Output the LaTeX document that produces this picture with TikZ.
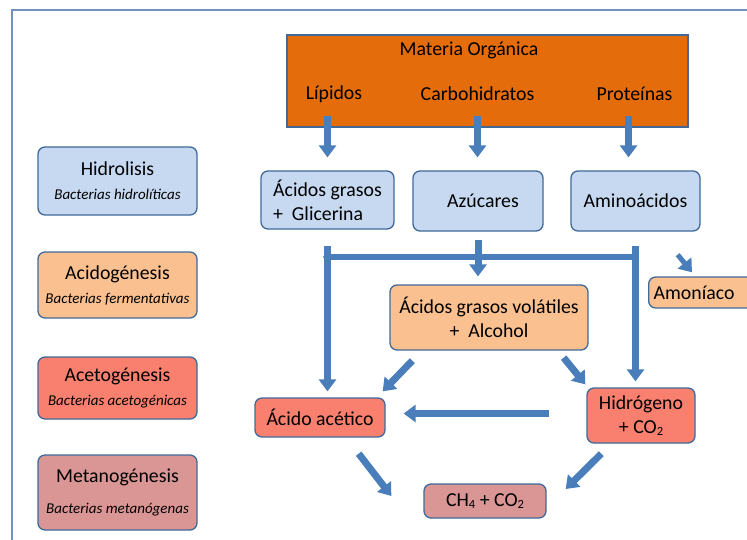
\documentclass[tikz,border=0pt]{standalone}
\usepackage{fontspec}
\setmainfont{Carlito}
\usepackage{xcolor}
\usepackage{tikz}
\usetikzlibrary{arrows.meta,positioning}

\definecolor{lblue}{HTML}{C6D9F1}
\definecolor{lorange}{HTML}{FAC090}
\definecolor{dorange}{HTML}{E46C0A}
\definecolor{lred}{HTML}{F9806F}
\definecolor{lpink}{HTML}{D99694}
\definecolor{edgeblue}{HTML}{41699A}
\definecolor{arrblue}{HTML}{4A7EBB}
\definecolor{framecol}{HTML}{7391BC}

\newcommand{\bigtxt}{\fontsize{19.8}{24}\selectfont}
\newcommand{\smalltxt}{\fontsize{15}{18}\selectfont\itshape}
\newcommand{\lowsub}[1]{\raisebox{-0.25ex}{\fontsize{12.5}{12.5}\selectfont #1}}

\begin{document}
\begin{tikzpicture}[
  x=1pt, y=-1pt,
  box/.style={draw=edgeblue,line width=1.3pt,rounded corners=7pt,align=center,inner sep=0pt,font=\bigtxt},
  txt/.style={inner sep=0pt,font=\bigtxt},
  arr/.style={-{Triangle[length=12pt,width=17pt]},line width=7pt,draw=arrblue},
  bar/.style={{Triangle[length=4pt,width=9pt]}-{Triangle[length=4pt,width=9pt]},line width=6pt,draw=arrblue},
  frame/.style={draw=framecol,line width=1.6pt},
]
\useasboundingbox (0,0) rectangle (747,539);
\draw[frame] (12,560) |- (770,10);

% stages
\node[box,fill=lblue,minimum width=159pt,minimum height=68pt] (hid) at (117.5,181) {Hidrolisis\\{\smalltxt Bacterias hidrolíticas}};
\node[box,fill=lorange,minimum width=159pt,minimum height=66pt] (aci) at (117.5,285) {Acidogénesis\\{\smalltxt Bacterias fermentativas}};
\node[box,fill=lred,minimum width=159pt,minimum height=62pt] (acg) at (117.5,388) {Acetogénesis\\{\smalltxt Bacterias acetogénicas}};
\node[box,fill=lpink,minimum width=159pt,minimum height=75pt] (met) at (117.5,492.5) {Metanogénesis\\[7pt]{\smalltxt Bacterias metanógenas}};

% materia organica
\node[box,rounded corners=0pt,fill=dorange,minimum width=401pt,minimum height=92pt] (mo) at (487.5,81) {};
\node[txt] (mot) at (469,50) {Materia Orgánica};
\node[txt] (lip) at (334,94) {Lípidos};
\node[txt] (carb) at (477.5,94) {Carbohidratos};
\node[txt] (prot) at (634.5,94) {Proteínas};

% products
\node[box,fill=lblue,minimum width=133pt,minimum height=58pt,align=left] (ag) at (327.5,200) {Ácidos grasos\\+ \ Glicerina};
\node[box,fill=lblue,minimum width=130pt,minimum height=60pt] (azu) at (478,201) {\hspace{10pt}Azúcares};
\node[box,fill=lblue,minimum width=129pt,minimum height=60pt] (amino) at (635.5,201) {Aminoácidos};
\node[box,fill=lorange,minimum width=198pt,minimum height=65pt] (agv) at (489,317.5) {Ácidos grasos volátiles\\+ \ Alcohol};
\node[box,fill=lorange,anchor=west,text width=100pt,minimum height=31pt,inner sep=5pt,align=left] (amon) at (648,292.5) {Amoníaco};
\node[box,fill=lred,minimum width=130pt,minimum height=39pt] (acet) at (320,417.5) {Ácido acético};
\node[box,fill=lred,minimum width=108pt,minimum height=55pt] (hidro) at (641,415.5) {Hidrógeno\\+ CO\lowsub{2}};
\node[box,fill=lpink,minimum width=122pt,minimum height=34pt] (ch4) at (485,501) {CH\lowsub{4} + CO\lowsub{2}};

\coordinate (barL) at (323,257);
\coordinate (barR) at (639,257);

% connectors
\draw[arr] ([yshift=12pt]mo.south -| ag) -- ([yshift=13pt]ag.north);
\draw[arr] ([yshift=12pt]mo.south -| carb) -- ([yshift=13pt]azu.north -| carb);
\draw[arr] ([yshift=12pt,xshift=-6pt]mo.south -| prot) -- ([yshift=13pt,xshift=-6pt]amino.north -| prot);
\draw[arr,shorten <=16pt,shorten >=6pt] (ag.south) -- (ag.south |- acet.north);
\draw[arr,shorten <=14pt,shorten >=6pt] (amino.south) -- (amino.south |- hidro.north);
\draw[bar] (barL) -- (barR);
\draw[arr,shorten <=8pt,shorten >=8pt] (azu.south) -- (azu.south |- agv.north);
\draw[arr,line width=5pt] ([xshift=-23pt,yshift=-23pt]amino.south east) -- ([xshift=44pt,yshift=4pt]amon.north west);
\draw[arr] ([xshift=23pt,yshift=-10pt]agv.south west) -- ([xshift=-3pt,yshift=6pt]acet.north east);
\draw[arr] ([xshift=-25pt,yshift=-7pt]agv.south east) -- ([xshift=-1pt,yshift=3pt]hidro.north west);
\draw[arr] ([xshift=-37pt,yshift=2pt]hidro.west) -- ([xshift=18pt,yshift=2pt]hidro.west -| acet.east);
\draw[arr] ([xshift=-27pt,yshift=-16pt]acet.south east) -- ([xshift=-32pt,yshift=5pt]ch4.west);
\draw[arr] ([xshift=15pt,yshift=-10pt]hidro.south west) -- ([xshift=19pt,yshift=12pt]ch4.east);
\end{tikzpicture}
\end{document}
